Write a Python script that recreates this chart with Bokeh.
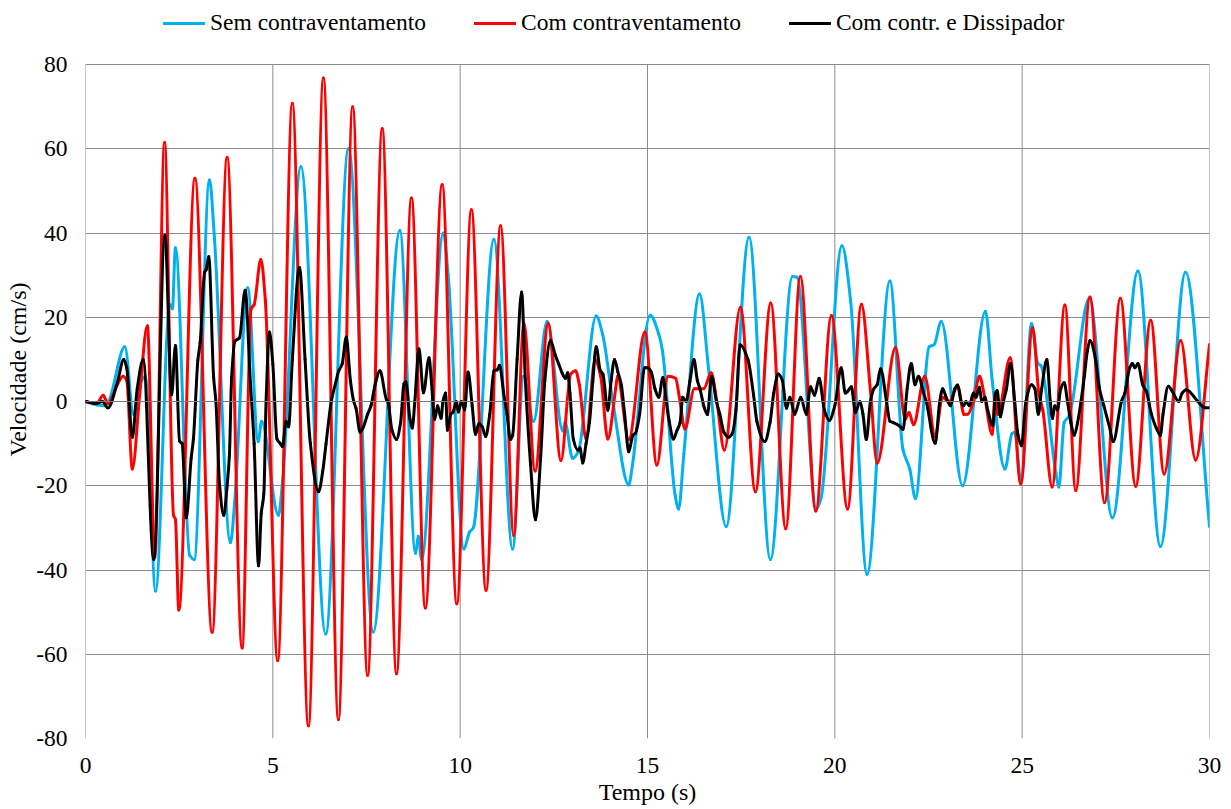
from bokeh.plotting import figure
from bokeh.models import Range1d, FixedTicker, Legend, LegendItem, Span
from bokeh.embed import file_html
from bokeh.resources import INLINE

# ---- data (time in s, velocity in cm/s) ----
x_ticks = [0, 5, 10, 15, 20, 25, 30]
y_ticks = [-80, -60, -40, -20, 0, 20, 40, 60, 80]
series_names = ["Sem contraventamento", "Com contraventamento", "Com contr. e Dissipador"]

sem_pts = [(0, 0), (0.3, -0.8), (0.5, -1), (0.6, -0.3), (1.05, 13), (1.28, -3), (1.45, 4), (1.6, 6),
           (1.87, -45), (2.25, 23), (2.32, 22), (2.4, 36.5), (2.78, -36.5), (2.9, -37.5), (3.31, 52.6),
           (3.44, 39), (3.87, -33.5), (3.98, -24), (4.33, 27), (4.61, -9.5), (4.7, -4.7), (5.15, -27),
           (5.26, -19), (5.75, 55.7), (6.41, -55.2), (7.02, 60), (7.68, -54.7), (8.39, 40.6), (8.81, -36),
           (8.88, -32), (8.97, -37.5), (9.55, 40), (9.68, 30), (10.1, -35), (10.25, -31), (10.35, -30),
           (10.9, 38.5), (11.4, -35), (11.69, 6), (11.96, -4.7), (12.32, 19), (12.74, -7), (12.8, -5),
           (13.0, -13.5), (13.15, -12), (13.63, 20.3), (13.8, 16), (14.1, -1.6), (14.5, -19.8),
           (14.6, -15), (15.07, 20.5), (15.3, 16), (15.4, 12), (15.74, -22.4), (15.83, -25.5),
           (15.97, -12.5), (16.39, 25.5), (16.63, 7.8), (17.1, -29.7), (17.71, 39), (18.28, -37.5),
           (18.87, 29.7), (18.99, 29.5), (19.51, -25.5), (19.63, -23), (20.19, 37), (20.42, 24),
           (20.86, -41), (21.47, 28.6), (21.82, -11.5), (22.0, -16), (22.15, -23), (22.52, 13),
           (22.65, 13.5), (22.84, 19), (23.41, -20), (24.02, 21.4), (24.2, 5), (24.54, -16),
           (24.73, -7.6), (24.8, -7.3), (24.97, -19.3), (25.25, 18.5), (25.42, 9), (25.5, 8.5),
           (25.9, -17), (25.98, -20.3), (26.12, -5), (26.25, -3.5), (26.79, 24.5), (27.41, -27.6),
           (28.09, 31), (28.69, -34.4), (29.36, 30.7), (30.0, -29.7)]

com_pts = [(0, 0), (0.3, -0.5), (0.47, 1.5), (0.6, -0.5), (0.85, 4), (1.0, 6), (1.1, 5), (1.25, -16),
           (1.45, 2), (1.65, 18), (1.85, -37), (2.11, 61.5), (2.35, -27), (2.4, -28), (2.49, -49.5),
           (2.92, 53), (3.38, -54.8), (3.78, 58), (4.18, -58.5), (4.42, 22), (4.5, 23), (4.68, 33.7),
           (4.8, 24), (5.13, -61.5), (5.52, 70.8), (5.95, -77), (6.35, 76.8), (6.75, -75.5), (7.13, 70),
           (7.53, -65), (7.92, 64.8), (8.3, -64.6), (8.7, 48.3), (9.07, -49), (9.52, 51.5), (9.91, -48),
           (10.3, 45.5), (10.69, -44.8), (11.08, 41.7), (11.43, -31.8), (11.7, 18.5), (12.0, -16.5),
           (12.35, 18.5), (12.69, -14), (12.95, 6.5), (13.08, 7.3), (13.18, 4), (13.36, -8.9),
           (13.6, 10), (13.75, 6), (13.94, -8.9), (14.15, 3), (14.2, 6), (14.5, -9), (14.93, 16.5),
           (15.25, -15.1), (15.55, 6), (15.75, 5.5), (15.85, 1), (16.0, -6.5), (16.25, 3), (16.5, 3),
           (16.7, 6.8), (16.85, 0), (17.05, -11.5), (17.48, 22.4), (17.88, -21.4), (18.29, 23.4),
           (18.69, -30.2), (19.08, 29.7), (19.49, -26), (19.91, 20.4), (20.34, -25.5), (20.71, 23.1),
           (20.95, 2.6), (21.13, -14.6), (21.62, 12.8), (21.88, -4.2), (21.98, -2.6), (22.1, -5.5),
           (22.4, 6), (22.68, -8.3), (22.87, 1), (23.05, 0), (23.28, 3.6), (23.45, -3.1), (23.55, -3),
           (23.7, 0), (23.86, 6), (24.0, 1), (24.2, -7.8), (24.28, 2), (24.35, -3), (24.68, 10.4),
           (24.96, -19.5), (25.28, 17.5), (25.45, 1.6), (25.55, -2), (25.8, -20.3), (26.14, 22.9),
           (26.43, -21.1), (26.81, 24.8), (27.2, -24), (27.62, 24.5), (28.03, -20.1), (28.43, 19.3),
           (28.79, -17.2), (29.23, 14.5), (29.63, -13.9), (30.0, 13.5)]

dis_pts = [(0, 0), (0.3, -0.5), (0.45, 0), (0.6, -1.5), (0.85, 4.5), (1.02, 10), (1.1, 8), (1.25, -8.5),
           (1.38, 3), (1.54, 10), (1.82, -37.5), (2.12, 39.5), (2.3, 1.6), (2.4, 13.3), (2.51, -9.4),
           (2.58, -10), (2.69, -27.6), (2.82, -13.5), (2.88, -8.9), (3.0, 9.9), (3.06, 14), (3.18, 30.7),
           (3.22, 31.3), (3.29, 34.4), (3.42, 5.7), (3.48, 0), (3.58, -20), (3.69, -27), (3.78, -20),
           (3.84, -13), (3.9, 5.7), (3.99, 14.3), (4.11, 15.1), (4.26, 26.4), (4.4, 4.7), (4.5, -10),
           (4.62, -39), (4.69, -26.6), (4.76, -21.9), (4.82, 0), (4.91, 16.5), (5.0, 8.9), (5.11, -8.9),
           (5.2, -10), (5.26, -10.7), (5.35, -4.7), (5.42, -6), (5.52, 9.9), (5.71, 31.8), (5.86, 10),
           (6.0, -9.9), (6.22, -21.4), (6.33, -16.7), (6.42, -10), (6.56, 0), (6.67, 4.2), (6.76, 7.3),
           (6.85, 8.9), (6.96, 15.3), (7.07, 5), (7.16, 0), (7.22, -1.6), (7.33, -7.3), (7.42, -6),
           (7.53, -3), (7.62, -1), (7.72, 3.6), (7.86, 7.3), (8.03, 0.5), (8.07, 0), (8.18, -6.8),
           (8.3, -9), (8.41, -5), (8.5, 4.2), (8.55, 4.7), (8.66, -4.2), (8.72, -6.3), (8.79, 0),
           (8.9, 12.5), (9.02, 2.1), (9.17, 10.4), (9.23, 5), (9.32, -4.2), (9.4, -1), (9.49, -4),
           (9.54, 0), (9.61, 2), (9.66, -6.8), (9.75, -3), (9.81, -2.5), (9.9, 0), (9.95, -2.5),
           (10.03, 0), (10.12, -2), (10.21, 7), (10.32, -1), (10.41, -7.8), (10.5, -5.2), (10.59, -6),
           (10.68, -8.3), (10.79, -3), (10.9, 7.3), (10.99, 7.5), (11.05, 8.6), (11.16, 2.1),
           (11.25, -3), (11.34, -9), (11.4, -8), (11.52, 10), (11.64, 26), (11.74, 5), (11.88, -15.1),
           (12.01, -28.1), (12.15, -13), (12.26, 5), (12.41, 14.5), (12.54, 11), (12.63, 8.9),
           (12.72, 6.8), (12.81, 5.5), (12.87, 6.8), (12.93, 2), (13.02, -8.9), (13.14, -11.5),
           (13.2, -11), (13.27, -14.6), (13.36, -10), (13.45, -5), (13.54, 4.7), (13.63, 13),
           (13.74, 7.3), (13.81, 6.5), (13.94, -2.1), (14.03, 5), (14.12, 10), (14.21, 7), (14.3, 4),
           (14.39, -3), (14.5, -11.9), (14.61, -8), (14.68, -7.5), (14.79, -3), (14.92, 8), (15.0, 8),
           (15.1, 7), (15.2, 3), (15.3, 1), (15.41, 5.7), (15.5, 0), (15.58, -4.7), (15.69, -8.9),
           (15.78, -7), (15.87, -5), (15.94, 1), (16.03, 0), (16.13, 4.7), (16.24, 10), (16.33, 5),
           (16.4, 3), (16.52, -1.6), (16.6, -3.1), (16.71, 6), (16.84, 0), (16.93, -3), (17.04, -7.3),
           (17.16, -8.5), (17.27, -7.5), (17.36, -2), (17.47, 13.5), (17.68, 10), (17.83, 1.6),
           (17.92, -4.7), (18.13, -9.5), (18.27, -5), (18.37, 2), (18.49, 6.5), (18.6, 5),
           (18.71, -1.6), (18.8, 1), (18.93, -3), (19.09, 1), (19.24, -3), (19.35, 3.5), (19.46, 1.5),
           (19.58, 5.5), (19.72, -2), (19.85, -4.5), (20.0, -1), (20.17, 8), (20.28, 2), (20.35, 2.5),
           (20.44, 3.5), (20.55, -2.6), (20.67, 0), (20.75, -3), (20.84, -9), (20.95, 0), (21.04, 3),
           (21.13, 4), (21.22, 7.8), (21.38, 0), (21.47, -4.7), (21.56, -5), (21.71, -5.7),
           (21.82, -6.6), (21.93, 3), (22.04, 9), (22.14, 4), (22.23, 6), (22.37, 2), (22.44, 0),
           (22.68, -9.9), (22.8, 0), (22.88, 3), (22.97, 1), (23.09, -1), (23.2, 3), (23.28, 3.9),
           (23.37, 0), (23.44, -1), (23.5, 0), (23.59, -1), (23.7, 2), (23.77, 1), (23.86, 3.4),
           (23.92, 0), (24.01, 1), (24.08, -2), (24.22, -5.7), (24.29, 2), (24.33, 2.6), (24.42, -3.6),
           (24.5, 0), (24.58, 3), (24.69, 9), (24.8, 0), (24.89, -8), (24.98, -10.5), (25.1, 0),
           (25.25, 4), (25.34, 3), (25.43, -3), (25.52, 3), (25.66, 10), (25.75, 0), (25.81, -4),
           (25.87, -1), (25.94, -2), (26.03, 3), (26.12, 4.5), (26.21, 0), (26.3, -5), (26.39, -8),
           (26.48, -5), (26.57, 0), (26.66, 6), (26.74, 12), (26.81, 14.5), (26.96, 10), (27.05, 3.6),
           (27.18, -1), (27.33, -6), (27.43, -9.5), (27.65, 0), (27.74, 2), (27.87, 8), (27.94, 9),
           (28.01, 8), (28.09, 9), (28.22, 3.9), (28.31, 2.5), (28.45, -3), (28.58, -6.3), (28.69, -8),
           (28.76, -3), (28.9, 3.6), (29.0, 2.5), (29.18, 0), (29.27, 2), (29.38, 2.8), (29.69, 0),
           (29.88, -1.5), (30.0, -1.5)]

colors = ["#00B0F0", "#FF0000", "#000000"]
FONT = "Liberation Serif"
GRID = "#8c8c8c"
FS = "23.5px"


def smooth_segments(pts):
    """Monotone cubic (PCHIP-style) Bezier segments through the read points (smoothed line, as in Excel)."""
    xs = [a for a, b in pts]
    ys = [b for a, b in pts]
    n = len(xs)
    h = [xs[k + 1] - xs[k] for k in range(n - 1)]
    d = [(ys[k + 1] - ys[k]) / h[k] for k in range(n - 1)]
    m = [0.0] * n
    m[0], m[-1] = d[0], d[-1]
    for k in range(1, n - 1):
        if d[k - 1] * d[k] <= 0:
            m[k] = 0.0
        else:
            w1 = 2 * h[k] + h[k - 1]
            w2 = h[k] + 2 * h[k - 1]
            m[k] = (w1 + w2) / (w1 / d[k - 1] + w2 / d[k])
    seg = dict(x0=[], y0=[], x1=[], y1=[], cx0=[], cy0=[], cx1=[], cy1=[])
    for k in range(n - 1):
        seg["x0"].append(xs[k]); seg["y0"].append(ys[k])
        seg["x1"].append(xs[k + 1]); seg["y1"].append(ys[k + 1])
        seg["cx0"].append(xs[k] + h[k] / 3); seg["cy0"].append(ys[k] + m[k] * h[k] / 3)
        seg["cx1"].append(xs[k + 1] - h[k] / 3); seg["cy1"].append(ys[k + 1] - m[k + 1] * h[k] / 3)
    return seg


# the frame runs up to the top of the page so that the legend (inside it) shows above the 80 line
Y_TOP = 80 + 64 / 4.2125
p = figure(width=1229, height=807, output_backend="svg", toolbar_location=None,
           x_range=Range1d(0, 30), y_range=Range1d(-80, Y_TOP),
           min_border_left=85, min_border_right=20, min_border_top=0, min_border_bottom=69)
p.background_fill_color = "white"
p.border_fill_color = "white"
p.outline_line_color = None

p.xaxis.ticker = FixedTicker(ticks=x_ticks)
p.yaxis.ticker = FixedTicker(ticks=y_ticks)
p.yaxis.bounds = (y_ticks[0], y_ticks[-1])
p.yaxis.major_label_overrides = {t: str(t) for t in y_ticks}
p.xaxis.major_label_overrides = {t: str(t) for t in x_ticks}
p.xaxis.axis_label = "Tempo (s)"
p.yaxis.axis_label = "Velocidade (cm/s)"
p.axis.axis_line_color = None
p.axis.major_tick_line_color = None
p.axis.minor_tick_line_color = None
p.axis.major_label_text_font = FONT
p.axis.major_label_text_font_size = FS
p.axis.major_label_text_color = "black"
p.axis.axis_label_text_font = FONT
p.axis.axis_label_text_font_size = "24px"
p.axis.axis_label_text_font_style = "normal"
p.axis.axis_label_text_color = "black"
p.xaxis.major_label_standoff = 13
p.xaxis.axis_label_standoff = 3
p.yaxis.major_label_standoff = 12
p.yaxis.axis_label_standoff = 2

p.xgrid.visible = False
p.ygrid.grid_line_color = GRID
p.ygrid.grid_line_width = 1
# vertical grid lines only between -80 and 80
p.segment(x0=x_ticks, y0=[y_ticks[0]] * len(x_ticks), x1=x_ticks, y1=[y_ticks[-1]] * len(x_ticks),
          line_color=GRID, line_width=1)

p.add_layout(Span(location=0, dimension="width", line_color="#7a7a7a", line_width=1))

legend_items = []
for name, pts, c in zip(series_names, [sem_pts, com_pts, dis_pts], colors):
    seg = smooth_segments(pts)
    r_curve = p.bezier(line_color=c, line_width=3, line_cap="round", **seg)
    # first reading of the series as a line renderer, so that the legend gets a line sample
    r_key = p.line(x=[pts[0][0]], y=[pts[0][1]], line_color=c, line_width=3)
    legend_items.append(LegendItem(label=name, renderers=[r_key, r_curve]))

legend = Legend(items=legend_items,
                location=(78, 702), orientation="horizontal",
                label_text_font=FONT, label_text_font_size=FS, label_text_color="black",
                glyph_width=42, glyph_height=20, label_standoff=5, spacing=48,
                padding=0, margin=0, border_line_color=None, background_fill_alpha=0)
p.add_layout(legend)

open("out.html", "w").write(file_html(p, INLINE))
